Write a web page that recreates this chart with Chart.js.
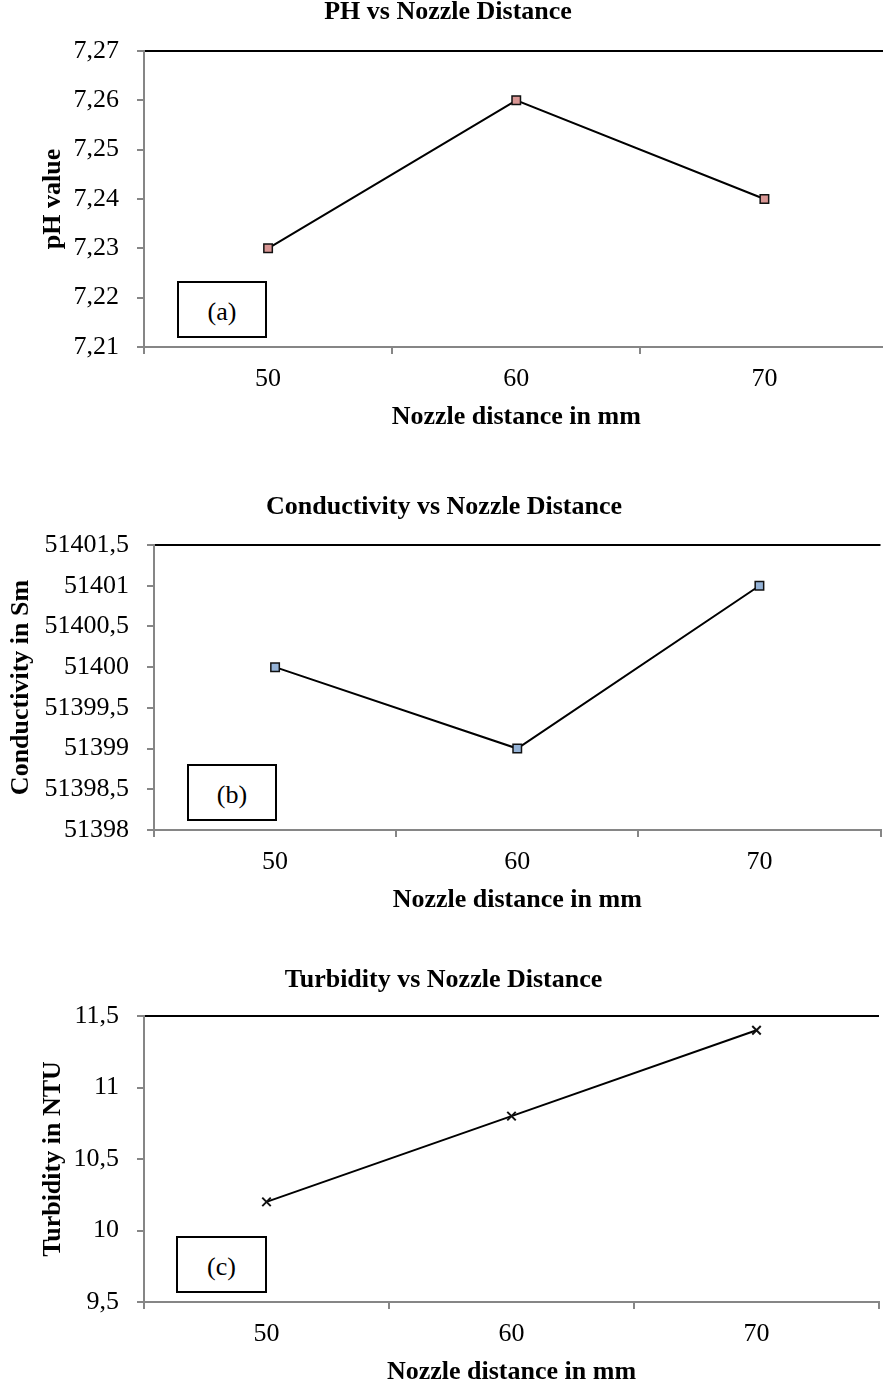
<!DOCTYPE html>
<html><head><meta charset="utf-8">
<script src="https://cdn.jsdelivr.net/npm/chart.js@4.4.0/dist/chart.umd.min.js"></script>
<style>
html,body{margin:0;padding:0;width:883px;height:1384px;overflow:hidden;background:#fff;position:relative;}
.wrap{position:absolute;left:0;}
canvas{display:block;}
.tag{position:absolute;border:2px solid #000;background:#fff;box-sizing:border-box;font:26px "Liberation Serif","Times New Roman",serif;display:flex;align-items:center;justify-content:center;color:#000;padding-top:4px;}
</style></head><body>
<div class="wrap" style="top:-10px"><canvas id="c1" width="896" height="457" style="width:896px;height:457px"></canvas></div>
<div class="wrap" style="top:480px"><canvas id="c2" width="888" height="450" style="width:888px;height:450px"></canvas></div>
<div class="wrap" style="top:950px"><canvas id="c3" width="887" height="452" style="width:887px;height:452px"></canvas></div>
<div class="tag" style="left:177px;top:281px;width:90px;height:57px">(a)</div>
<div class="tag" style="left:187px;top:764px;width:90px;height:57px">(b)</div>
<div class="tag" style="left:176px;top:1236px;width:91px;height:57px">(c)</div>
<script>
const categories = ['50', '60', '70'];
const phValues = [7.23, 7.26, 7.24];
const conductivityValues = [51400, 51399, 51401];
const turbidityValues = [10.2, 10.8, 11.4];
const phTicks = [7.21, 7.22, 7.23, 7.24, 7.25, 7.26, 7.27];
const conductivityTicks = [51398, 51398.5, 51399, 51399.5, 51400, 51400.5, 51401, 51401.5];
const turbidityTicks = [9.5, 10, 10.5, 11, 11.5];

const FAM = '"Liberation Serif", "Times New Roman", serif';
const AXIS = '#868686';

function fmt(v) { return String(+(+v).toFixed(2)).replace('.', ','); }

function make(id, o) {
  const max = o.ticks[o.ticks.length - 1];
  return new Chart(document.getElementById(id), {
    type: 'line',
    data: {
      labels: categories,
      datasets: [{
        data: o.values,
        borderColor: '#000',
        borderWidth: 2,
        tension: 0,
        pointStyle: o.pointStyle,
        pointRadius: o.pointRadius,
        pointHoverRadius: o.pointRadius,
        pointBackgroundColor: o.pointFill,
        pointBorderColor: '#111',
        pointBorderWidth: o.pointBorderWidth
      }]
    },
    options: {
      responsive: false,
      animation: false,
      devicePixelRatio: 1,
      layout: { padding: 0 },
      plugins: {
        legend: { display: false },
        tooltip: { enabled: false },
        title: {
          display: true,
          text: o.title,
          color: '#000',
          font: { family: FAM, size: 26, weight: 'bold' },
          padding: { top: o.tPadTop, bottom: o.tPadBottom }
        }
      },
      scales: {
        x: {
          offset: true,
          afterFit: s => { s.height = 100; },
          border: { color: AXIS, width: 2 },
          grid: { offset: true, drawOnChartArea: false, drawTicks: true, tickLength: 7, tickColor: AXIS, lineWidth: 2 },
          ticks: { color: '#000', font: { family: FAM, size: 26 }, padding: 9.4, maxRotation: 0 },
          title: { display: true, text: 'Nozzle distance in mm', color: '#000', font: { family: FAM, size: 26, weight: 'bold' }, padding: { top: 0, bottom: 14.4 } }
        },
        y: {
          min: o.ticks[0],
          max: max,
          afterFit: s => { s.width = o.yWidth; },
          afterBuildTicks: s => { s.ticks = o.ticks.map(v => ({ value: v })); },
          border: { color: AXIS, width: 2 },
          grid: {
            drawOnChartArea: true,
            drawTicks: true,
            tickLength: 7,
            tickColor: AXIS,
            lineWidth: 2,
            color: c => (c.tick && Math.abs(c.tick.value - max) < 1e-9) ? '#000' : 'rgba(0,0,0,0)'
          },
          ticks: { color: '#000', font: { family: FAM, size: 26 }, padding: 18, callback: v => fmt(v) },
          title: { display: true, text: o.yTitle, color: '#000', font: { family: FAM, size: 26, weight: 'bold' }, padding: { top: o.yTitlePad, bottom: 0 } }
        }
      }
    }
  });
}

make('c1', {
  values: phValues, ticks: phTicks, title: 'PH vs Nozzle Distance', yTitle: 'pH value',
  pointStyle: 'rect', pointRadius: 6, pointFill: '#d99694', pointBorderWidth: 1.5,
  tPadTop: 6.4, tPadBottom: 23.4, yWidth: 144, yTitlePad: 37.4
});
make('c2', {
  values: conductivityValues, ticks: conductivityTicks, title: 'Conductivity vs Nozzle Distance', yTitle: 'Conductivity in Sm',
  pointStyle: 'rect', pointRadius: 6, pointFill: '#95b3d7', pointBorderWidth: 1.5,
  tPadTop: 11.4, tPadBottom: 22.4, yWidth: 154, yTitlePad: 5.4
});
make('c3', {
  values: turbidityValues, ticks: turbidityTicks, title: 'Turbidity vs Nozzle Distance', yTitle: 'Turbidity in NTU',
  pointStyle: 'crossRot', pointRadius: 6, pointFill: '#000', pointBorderWidth: 2,
  tPadTop: 14.4, tPadBottom: 20.4, yWidth: 144, yTitlePad: 37.4
});
</script>
</body></html>
